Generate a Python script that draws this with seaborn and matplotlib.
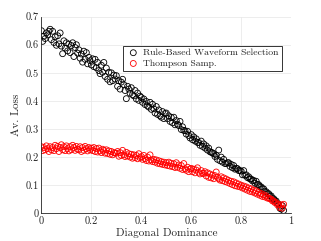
import pandas as pd
import matplotlib.pyplot as plt
import seaborn as sns

# diagonal dominance values (x), 0.005 spacing
dominance = [
    0.000, 0.005, 0.010, 0.015, 0.020, 0.025, 0.030, 0.035, 0.040, 0.045,
    0.050, 0.055, 0.060, 0.065, 0.070, 0.075, 0.080, 0.085, 0.090, 0.095,
    0.100, 0.105, 0.110, 0.115, 0.120, 0.125, 0.130, 0.135, 0.140, 0.145,
    0.150, 0.155, 0.160, 0.165, 0.170, 0.175, 0.180, 0.185, 0.190, 0.195,
    0.200, 0.205, 0.210, 0.215, 0.220, 0.225, 0.230, 0.235, 0.240, 0.245,
    0.250, 0.255, 0.260, 0.265, 0.270, 0.275, 0.280, 0.285, 0.290, 0.295,
    0.300, 0.305, 0.310, 0.315, 0.320, 0.325, 0.330, 0.335, 0.340, 0.345,
    0.350, 0.355, 0.360, 0.365, 0.370, 0.375, 0.380, 0.385, 0.390, 0.395,
    0.400, 0.405, 0.410, 0.415, 0.420, 0.425, 0.430, 0.435, 0.440, 0.445,
    0.450, 0.455, 0.460, 0.465, 0.470, 0.475, 0.480, 0.485, 0.490, 0.495,
    0.500, 0.505, 0.510, 0.515, 0.520, 0.525, 0.530, 0.535, 0.540, 0.545,
    0.550, 0.555, 0.560, 0.565, 0.570, 0.575, 0.580, 0.585, 0.590, 0.595,
    0.600, 0.605, 0.610, 0.615, 0.620, 0.625, 0.630, 0.635, 0.640, 0.645,
    0.650, 0.655, 0.660, 0.665, 0.670, 0.675, 0.680, 0.685, 0.690, 0.695,
    0.700, 0.705, 0.710, 0.715, 0.720, 0.725, 0.730, 0.735, 0.740, 0.745,
    0.750, 0.755, 0.760, 0.765, 0.770, 0.775, 0.780, 0.785, 0.790, 0.795,
    0.800, 0.805, 0.810, 0.815, 0.820, 0.825, 0.830, 0.835, 0.840, 0.845,
    0.850, 0.855, 0.860, 0.865, 0.870, 0.875, 0.880, 0.885, 0.890, 0.895,
    0.900, 0.905, 0.910, 0.915, 0.920, 0.925, 0.930, 0.935, 0.940, 0.945,
    0.950, 0.955, 0.960, 0.965, 0.970,
]

# average loss, rule-based waveform selection
loss_rule = [
    0.650, 0.612, 0.630, 0.622, 0.642, 0.635, 0.648, 0.655, 0.618, 0.648,
    0.608, 0.628, 0.598, 0.632, 0.603, 0.642, 0.595, 0.568, 0.614, 0.588,
    0.607, 0.578, 0.602, 0.572, 0.597, 0.607, 0.558, 0.590, 0.600, 0.570,
    0.582, 0.552, 0.567, 0.538, 0.577, 0.548, 0.572, 0.532, 0.555, 0.543,
    0.528, 0.550, 0.522, 0.548, 0.518, 0.537, 0.508, 0.497, 0.527, 0.502,
    0.537, 0.487, 0.517, 0.477, 0.502, 0.468, 0.500, 0.472, 0.492, 0.478,
    0.490, 0.452, 0.472, 0.442, 0.467, 0.477, 0.458, 0.437, 0.408, 0.452,
    0.442, 0.427, 0.447, 0.422, 0.418, 0.437, 0.407, 0.428, 0.402, 0.417,
    0.412, 0.395, 0.407, 0.387, 0.398, 0.382, 0.378, 0.395, 0.370, 0.388,
    0.372, 0.357, 0.380, 0.352, 0.368, 0.347, 0.342, 0.362, 0.337, 0.355,
    0.357, 0.337, 0.347, 0.327, 0.341, 0.322, 0.342, 0.315, 0.330, 0.317,
    0.312, 0.327, 0.298, 0.308, 0.295, 0.294, 0.282, 0.292, 0.277, 0.268,
    0.280, 0.262, 0.272, 0.257, 0.265, 0.252, 0.252, 0.242, 0.257, 0.238,
    0.247, 0.232, 0.240, 0.225, 0.232, 0.219, 0.217, 0.215, 0.212, 0.202,
    0.207, 0.192, 0.225, 0.187, 0.200, 0.182, 0.192, 0.177, 0.177, 0.180,
    0.180, 0.167, 0.174, 0.162, 0.170, 0.157, 0.160, 0.159, 0.152, 0.152,
    0.150, 0.137, 0.152, 0.135, 0.137, 0.127, 0.130, 0.122, 0.122, 0.115,
    0.117, 0.107, 0.114, 0.102, 0.102, 0.095, 0.094, 0.087, 0.087, 0.077,
    0.077, 0.069, 0.070, 0.062, 0.062, 0.052, 0.052, 0.045, 0.044, 0.035,
    0.032, 0.018, 0.015, 0.027, 0.010,
]

# average loss, Thompson sampling
loss_ts = [
    0.237, 0.223, 0.234, 0.226, 0.240, 0.230, 0.220, 0.237, 0.226, 0.234,
    0.223, 0.242, 0.230, 0.238, 0.220, 0.234, 0.244, 0.226, 0.237, 0.223,
    0.240, 0.230, 0.222, 0.237, 0.226, 0.242, 0.234, 0.224, 0.238, 0.228,
    0.226, 0.237, 0.220, 0.234, 0.224, 0.238, 0.230, 0.222, 0.234, 0.226,
    0.232, 0.223, 0.234, 0.220, 0.230, 0.218, 0.232, 0.222, 0.216, 0.228,
    0.224, 0.214, 0.226, 0.213, 0.222, 0.210, 0.220, 0.208, 0.216, 0.214,
    0.214, 0.220, 0.203, 0.216, 0.206, 0.224, 0.208, 0.202, 0.217, 0.204,
    0.212, 0.200, 0.210, 0.196, 0.208, 0.198, 0.206, 0.194, 0.212, 0.198,
    0.202, 0.192, 0.206, 0.194, 0.188, 0.200, 0.186, 0.208, 0.190, 0.184,
    0.192, 0.182, 0.190, 0.178, 0.187, 0.176, 0.184, 0.174, 0.182, 0.172,
    0.180, 0.170, 0.182, 0.168, 0.178, 0.166, 0.176, 0.163, 0.180, 0.164,
    0.172, 0.160, 0.170, 0.156, 0.177, 0.158, 0.153, 0.164, 0.148, 0.158,
    0.160, 0.148, 0.157, 0.144, 0.154, 0.162, 0.146, 0.140, 0.152, 0.142,
    0.142, 0.148, 0.133, 0.144, 0.128, 0.140, 0.126, 0.136, 0.123, 0.134,
    0.147, 0.128, 0.123, 0.118, 0.130, 0.116, 0.126, 0.113, 0.122, 0.110,
    0.117, 0.106, 0.114, 0.102, 0.112, 0.098, 0.108, 0.096, 0.104, 0.094,
    0.100, 0.090, 0.097, 0.086, 0.094, 0.082, 0.090, 0.078, 0.087, 0.076,
    0.082, 0.072, 0.080, 0.068, 0.074, 0.064, 0.070, 0.060, 0.066, 0.058,
    0.062, 0.054, 0.054, 0.052, 0.050, 0.044, 0.044, 0.038, 0.038, 0.030,
    0.032, 0.020, 0.030, 0.018, 0.032,
]

series_names = ["Rule-Based Waveform Selection", "Thompson Samp."]
series_colors = ["black", "red"]

df = pd.concat([
    pd.DataFrame({"x": dominance, "y": loss_rule, "method": series_names[0]}),
    pd.DataFrame({"x": dominance, "y": loss_ts, "method": series_names[1]}),
])

sns.set_style("whitegrid")
plt.rcParams["font.family"] = ["cmr10", "DejaVu Serif"]
plt.rcParams["axes.formatter.use_mathtext"] = True

fig = plt.figure(figsize=(3.21, 2.41), dpi=100)
ax = fig.add_axes([0.129, 0.115, 0.778, 0.816])

for name, color in zip(series_names, series_colors):
    sub = df[df["method"] == name]
    sns.scatterplot(data=sub, x="x", y="y", ax=ax, marker="o", s=18,
                    facecolors="none", edgecolor=color, linewidth=0.6,
                    label=name)

ax.set_xlim(0, 1)
ax.set_ylim(0, 0.7)
ax.set_xticks([0, 0.2, 0.4, 0.6, 0.8, 1])
ax.set_xticklabels(["0", "0.2", "0.4", "0.6", "0.8", "1"])
ax.set_yticks([0, 0.1, 0.2, 0.3, 0.4, 0.5, 0.6, 0.7])
ax.set_yticklabels(["0", "0.1", "0.2", "0.3", "0.4", "0.5", "0.6", "0.7"])
ax.set_xlabel("Diagonal Dominance", fontsize=8, color="#262626", labelpad=2)
ax.set_ylabel("Av. Loss", fontsize=8, color="#262626", labelpad=3)
ax.tick_params(axis="both", labelsize=7.5, colors="#262626", direction="in",
               length=2.5, width=0.5, pad=2)
ax.grid(True, color="#e6e6e6", linewidth=0.5)
for side in ["top", "right"]:
    ax.spines[side].set_visible(False)
for side in ["left", "bottom"]:
    ax.spines[side].set_color("#262626")
    ax.spines[side].set_linewidth(0.6)

leg = ax.legend(loc="upper left", bbox_to_anchor=(0.327, 0.853), fontsize=7,
                frameon=True, fancybox=False, edgecolor="black",
                handletextpad=0.3, borderpad=0.3, labelspacing=0.2,
                handlelength=1.5, borderaxespad=0)
leg.get_frame().set_linewidth(0.7)

plt.savefig("out.png", dpi=100)
